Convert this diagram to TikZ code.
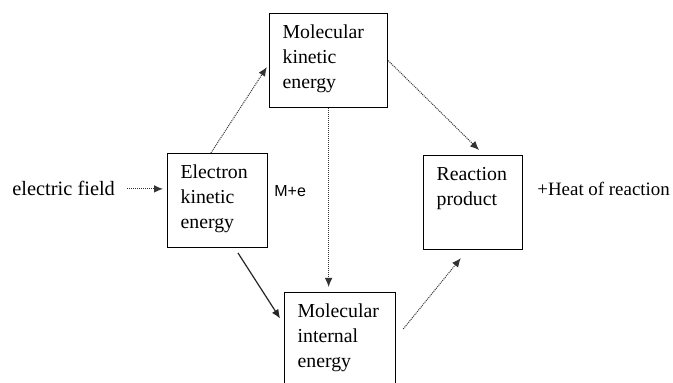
\documentclass[tikz,border=0pt]{standalone}
\usepackage{fontspec}
\setmainfont{Liberation Serif}
\newfontfamily\labelsans{Liberation Sans}
\usetikzlibrary{arrows.meta}
\tikzset{box/.style={draw, line width=0.6pt, anchor=north west, inner xsep=6.5pt, inner ysep=3.75pt, font=\fontsize{9.9}{12.5}\selectfont}}
\tikzset{dotline/.style={->, line width=0.5pt, draw=black!80, dash pattern=on 0.5pt off 0.5pt}}
\tikzset{solidline/.style={->, line width=0.6pt, draw=black!85}}
\tikzset{freetext/.style={anchor=base west, inner sep=0pt}}
\newcommand{\boxlines}[2]{\parbox[t][39.5pt][t]{#1}{\strut #2}}

\begin{document}
\begin{tikzpicture}[x=0.5pt,y=-0.5pt,>={Latex[length=4.5pt,width=3.8pt]}]
    \useasboundingbox (0,0) rectangle (673,383);

    \node[box] (electron) at (167,153) {\boxlines{37pt}{Electron\\kinetic\\energy}};
    \node[box] (molkinetic) at (269,13) {\boxlines{46pt}{Molecular\\kinetic\\energy}};
    \node[box] (molinternal) at (284,292) {\boxlines{42.5pt}{Molecular\\internal\\energy}};
    \node[box] (product) at (423,155) {\boxlines{36.5pt}{Reaction\\product}};

    \node[freetext, font=\fontsize{10.2}{12}\selectfont] (field) at (12,196) {electric field};
    \node[freetext, font=\labelsans\fontsize{8}{10}\selectfont] (me) at (274,197) {M+e};
    \node[freetext, font=\fontsize{9.45}{12}\selectfont] (heat) at (537,196) {+Heat of reaction};

    \draw[dotline, shorten <=6pt, shorten >=2pt] (field.east) -- (field.east -| electron.west);
    \draw[dotline, shorten >=2pt] (electron.98) -- (molkinetic.183);
    \draw[dotline, shorten >=3.5pt] (molkinetic.east) -- (product.77);
    \draw[dotline, shorten >=2.5pt] (molkinetic.south) -- (molkinetic.south |- molinternal.north);
    \draw[solidline, shorten <=2.8pt, shorten >=3.6pt] (electron.290) -- (molinternal.165);
    \draw[dotline, shorten <=5.6pt, shorten >=5.1pt] (molinternal.2) -- (product.263);

\end{tikzpicture}
\end{document}
